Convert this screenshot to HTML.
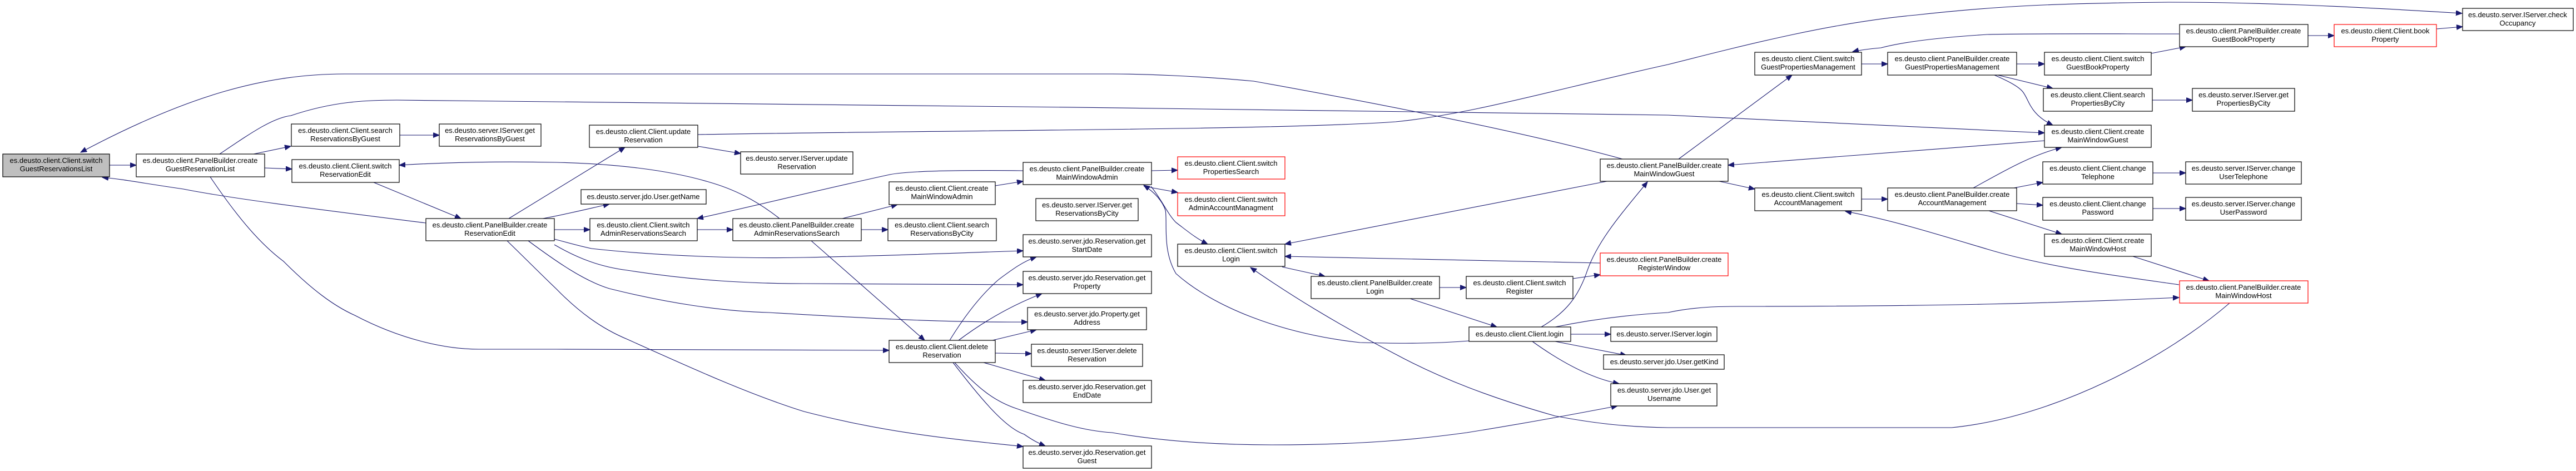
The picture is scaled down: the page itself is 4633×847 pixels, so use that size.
<!DOCTYPE html>
<html><head><meta charset="utf-8"><style>
html,body{margin:0;padding:0;background:#fff;}
svg{display:block;}
text{font-family:"Liberation Sans",Arial,sans-serif;font-size:13px;fill:#000;text-anchor:middle;}
.e{fill:none;stroke:#191970;stroke-width:1.1;marker-end:url(#a);}
rect{fill:#fff;stroke:#000;stroke-width:1.2;}
rect.r{stroke:#ff0000;}
</style></head><body>
<svg width="4633" height="847" viewBox="0 0 4633 847" xmlns="http://www.w3.org/2000/svg">
<defs><marker id="a" markerUnits="userSpaceOnUse" markerWidth="12" markerHeight="10" refX="11" refY="4.5" orient="auto"><path d="M0,0 L11,4.5 L0,9 z" fill="#191970" stroke="#191970"/></marker></defs>

<!-- edges -->
<path class="e" d="M197,297 L245,297"/>
<path class="e" d="M456,277 L523,263"/>
<path class="e" d="M476,302 L525,304"/>
<path class="e" d="M719,243 L790,243"/>
<path class="e" d="M672,328 L829,393"/>
<path class="e" d="M766,401 C600,380 420,358 330,340 C260,330 220,322 184,319"/>
<path class="e" d="M2918,286 C2750,240 2500,190 2255,146 C2150,136 2050,133 2000,133 L620,133 C480,133 340,170 145,274"/>
<path class="e" d="M395,277 C450,240 490,212 523,208 C600,182 660,180 714,180 C1200,184 2400,198 3000,207 L3677,239"/>
<path class="e" d="M1255,242 C1700,234 2300,234 2510,219 C2650,205 2800,160 3000,116 C3150,78 3300,40 3446,27 C3600,10 3700,6 3900,4 C4050,4 4200,10 4428,24"/>
<path class="e" d="M915,393 L1124,265"/>
<path class="e" d="M1255,263 L1332,276"/>
<path class="e" d="M976,393 C1020,385 1060,375 1096,367"/>
<path class="e" d="M997,413 L1061,413"/>
<path class="e" d="M1254,413 L1318,413"/>
<path class="e" d="M1515,393 L1614,368"/>
<path class="e" d="M1549,413 L1597,413"/>
<path class="e" d="M1790,334 L1840,326"/>
<path class="e" d="M1840,307 C1750,306 1640,306 1600,314 C1480,340 1350,372 1254,393"/>
<path class="e" d="M1402,393 C1360,360 1320,340 1274,327 C1200,305 1100,294 1000,292 C900,290 800,292 718,297"/>
<path class="e" d="M1459,433 L1663,612"/>
<path class="e" d="M997,430 C1020,436 1040,442 1064,447 C1200,462 1350,465 1446,463 C1600,460 1720,455 1840,451"/>
<path class="e" d="M997,440 C1040,465 1080,480 1128,486 C1250,505 1350,510 1446,510 C1600,512 1720,512 1840,512"/>
<path class="e" d="M950,433 C1000,470 1050,505 1096,519 C1200,545 1300,560 1383,562 C1600,575 1720,580 1848,579"/>
<path class="e" d="M912,433 C950,470 980,500 1000,519 C1040,560 1080,590 1128,610 C1250,665 1350,710 1446,740 C1600,780 1720,790 1840,803"/>
<path class="e" d="M378,318 C430,395 470,440 510,470 C560,520 600,550 638,567 C720,610 800,628 861,628 L1000,628 C1300,629 1450,630 1599,630"/>
<path class="e" d="M1708,612 C1740,560 1770,525 1797,502 C1820,485 1840,470 1864,462"/>
<path class="e" d="M1724,612 C1780,570 1830,545 1874,528"/>
<path class="e" d="M1785,612 L1864,593"/>
<path class="e" d="M1790,635 L1855,636"/>
<path class="e" d="M1769,652 L1880,684"/>
<path class="e" d="M1714,652 C1770,725 1810,770 1842,781 C1855,790 1865,796 1880,802"/>
<path class="e" d="M1717,652 C1760,700 1790,722 1829,735 C1900,760 1950,775 2000,778 C2100,795 2200,800 2287,800 C2450,800 2550,790 2638,778 C2750,760 2830,745 2909,730"/>
<path class="e" d="M2071,307 L2118,306"/>
<path class="e" d="M2057,335 L2118,346"/>
<path class="e" d="M2070,335 C2090,360 2100,385 2115,400 C2135,415 2150,428 2172,439"/>
<path class="e" d="M2642,613 C2580,618 2520,618 2446,616 C2300,600 2180,550 2115,492 C2090,450 2100,400 2096,378 C2090,360 2075,345 2057,333"/>
<path class="e" d="M2306,480 L2383,497"/>
<path class="e" d="M2589,517 L2637,517"/>
<path class="e" d="M2536,537 L2692,588"/>
<path class="e" d="M2829,501 L2878,494"/>
<path class="e" d="M2878,473 L2311,461"/>
<path class="e" d="M2890,326 L2311,439"/>
<path class="e" d="M2772,588 C2820,560 2840,530 2855,486 C2875,430 2920,380 2963,327"/>
<path class="e" d="M2825,601 L2897,601"/>
<path class="e" d="M2797,614 L2925,639"/>
<path class="e" d="M2756,614 C2820,660 2870,682 2912,690"/>
<path class="e" d="M4010,545 C3900,640 3700,750 3510,769 L3000,769 C2930,768 2870,762 2797,748 C2680,715 2590,680 2510,637 C2400,580 2320,530 2249,481"/>
<path class="e" d="M2797,588 C2860,575 2930,566 3000,562 C3050,551 3100,551 3128,551 C3500,551 3700,545 3919,535"/>
<path class="e" d="M3919,512 C3800,495 3680,480 3574,448 C3480,420 3400,395 3319,380"/>
<path class="e" d="M3836,461 L3973,505"/>
<path class="e" d="M3019,286 L3223,135"/>
<path class="e" d="M3092,326 L3156,340"/>
<path class="e" d="M3677,253 L3108,297"/>
<path class="e" d="M3348,115 L3395,115"/>
<path class="e" d="M3627,115 L3677,115"/>
<path class="e" d="M3593,135 L3692,159"/>
<path class="e" d="M3587,135 C3610,145 3630,155 3638,165 C3650,180 3650,205 3692,225"/>
<path class="e" d="M3869,96 L3931,84"/>
<path class="e" d="M3919,61 C3800,61 3650,60 3574,62 C3480,68 3420,76 3383,86 C3360,88 3345,90 3332,93"/>
<path class="e" d="M3871,180 L3943,180"/>
<path class="e" d="M3348,358 L3395,358"/>
<path class="e" d="M3549,338 C3600,310 3650,280 3708,265"/>
<path class="e" d="M3622,338 L3674,328"/>
<path class="e" d="M3627,366 L3674,369"/>
<path class="e" d="M3577,379 L3708,421"/>
<path class="e" d="M3872,311 L3931,311"/>
<path class="e" d="M3872,375 L3931,375"/>
<path class="e" d="M4151,64 L4198,64"/>
<path class="e" d="M4382,52 L4429,48"/>

<!-- nodes -->
<rect x="5" y="277" width="192" height="41" style="fill:#bfbfbf"/><text x="101" y="293">es.deusto.client.Client.switch</text><text x="101" y="308">GuestReservationsList</text>
<rect x="245" y="277" width="231" height="41"/><text x="360" y="293">es.deusto.client.PanelBuilder.create</text><text x="360" y="308">GuestReservationList</text>
<rect x="524" y="223" width="195" height="40"/><text x="621" y="239">es.deusto.client.Client.search</text><text x="621" y="254">ReservationsByGuest</text>
<rect x="790" y="223" width="183" height="40"/><text x="881" y="239">es.deusto.server.IServer.get</text><text x="881" y="254">ReservationsByGuest</text>
<rect x="525" y="287" width="193" height="41"/><text x="621" y="303">es.deusto.client.Client.switch</text><text x="621" y="318">ReservationEdit</text>
<rect x="766" y="393" width="231" height="40"/><text x="881" y="409">es.deusto.client.PanelBuilder.create</text><text x="881" y="424">ReservationEdit</text>
<rect x="1060" y="225" width="195" height="40"/><text x="1157" y="241">es.deusto.client.Client.update</text><text x="1157" y="256">Reservation</text>
<rect x="1332" y="273" width="202" height="40"/><text x="1433" y="289">es.deusto.server.IServer.update</text><text x="1433" y="304">Reservation</text>
<rect x="1045" y="341" width="225" height="26"/><text x="1157" y="358">es.deusto.server.jdo.User.getName</text>
<rect x="1061" y="393" width="193" height="40"/><text x="1157" y="409">es.deusto.client.Client.switch</text><text x="1157" y="424">AdminReservationsSearch</text>
<rect x="1318" y="393" width="231" height="40"/><text x="1433" y="409">es.deusto.client.PanelBuilder.create</text><text x="1433" y="424">AdminReservationsSearch</text>
<rect x="1599" y="327" width="191" height="41"/><text x="1694" y="343">es.deusto.client.Client.create</text><text x="1694" y="358">MainWindowAdmin</text>
<rect x="1597" y="393" width="195" height="40"/><text x="1694" y="409">es.deusto.client.Client.search</text><text x="1694" y="424">ReservationsByCity</text>
<rect x="1599" y="612" width="191" height="40"/><text x="1694" y="628">es.deusto.client.Client.delete</text><text x="1694" y="643">Reservation</text>
<rect x="1840" y="292" width="231" height="40"/><text x="1955" y="308">es.deusto.client.PanelBuilder.create</text><text x="1955" y="323">MainWindowAdmin</text>
<rect x="1863" y="357" width="184" height="40"/><text x="1955" y="373">es.deusto.server.IServer.get</text><text x="1955" y="388">ReservationsByCity</text>
<rect x="1840" y="422" width="231" height="40"/><text x="1955" y="438">es.deusto.server.jdo.Reservation.get</text><text x="1955" y="453">StartDate</text>
<rect x="1840" y="488" width="231" height="40"/><text x="1955" y="504">es.deusto.server.jdo.Reservation.get</text><text x="1955" y="519">Property</text>
<rect x="1848" y="553" width="214" height="40"/><text x="1955" y="569">es.deusto.server.jdo.Property.get</text><text x="1955" y="584">Address</text>
<rect x="1855" y="619" width="200" height="40"/><text x="1955" y="635">es.deusto.server.IServer.delete</text><text x="1955" y="650">Reservation</text>
<rect x="1840" y="684" width="231" height="40"/><text x="1955" y="700">es.deusto.server.jdo.Reservation.get</text><text x="1955" y="715">EndDate</text>
<rect x="1840" y="802" width="231" height="40"/><text x="1955" y="818">es.deusto.server.jdo.Reservation.get</text><text x="1955" y="833">Guest</text>
<rect class="r" x="2118" y="282" width="193" height="40"/><text x="2214" y="298">es.deusto.client.Client.switch</text><text x="2214" y="313">PropertiesSearch</text>
<rect class="r" x="2118" y="347" width="193" height="41"/><text x="2214" y="363">es.deusto.client.Client.switch</text><text x="2214" y="378">AdminAccountManagment</text>
<rect x="2118" y="439" width="193" height="40"/><text x="2214" y="455">es.deusto.client.Client.switch</text><text x="2214" y="470">Login</text>
<rect x="2358" y="497" width="231" height="40"/><text x="2473" y="513">es.deusto.client.PanelBuilder.create</text><text x="2473" y="528">Login</text>
<rect x="2637" y="497" width="192" height="40"/><text x="2733" y="513">es.deusto.client.Client.switch</text><text x="2733" y="528">Register</text>
<rect class="r" x="2878" y="455" width="230" height="41"/><text x="2993" y="471">es.deusto.client.PanelBuilder.create</text><text x="2993" y="486">RegisterWindow</text>
<rect x="2642" y="588" width="183" height="26"/><text x="2733" y="605">es.deusto.client.Client.login</text>
<rect x="2897" y="588" width="191" height="26"/><text x="2993" y="605">es.deusto.server.IServer.login</text>
<rect x="2884" y="638" width="217" height="26"/><text x="2993" y="655">es.deusto.server.jdo.User.getKind</text>
<rect x="2897" y="690" width="191" height="40"/><text x="2993" y="706">es.deusto.server.jdo.User.get</text><text x="2993" y="721">Username</text>
<rect x="2878" y="286" width="230" height="40"/><text x="2993" y="302">es.deusto.client.PanelBuilder.create</text><text x="2993" y="317">MainWindowGuest</text>
<rect x="3156" y="94" width="192" height="41"/><text x="3252" y="110">es.deusto.client.Client.switch</text><text x="3252" y="125">GuestPropertiesManagement</text>
<rect x="3395" y="94" width="232" height="41"/><text x="3511" y="110">es.deusto.client.PanelBuilder.create</text><text x="3511" y="125">GuestPropertiesManagement</text>
<rect x="3677" y="94" width="192" height="41"/><text x="3773" y="110">es.deusto.client.Client.switch</text><text x="3773" y="125">GuestBookProperty</text>
<rect x="3675" y="159" width="196" height="41"/><text x="3773" y="175">es.deusto.client.Client.search</text><text x="3773" y="190">PropertiesByCity</text>
<rect x="3677" y="225" width="192" height="40"/><text x="3773" y="241">es.deusto.client.Client.create</text><text x="3773" y="256">MainWindowGuest</text>
<rect x="3156" y="338" width="192" height="41"/><text x="3252" y="354">es.deusto.client.Client.switch</text><text x="3252" y="369">AccountManagement</text>
<rect x="3395" y="338" width="232" height="41"/><text x="3511" y="354">es.deusto.client.PanelBuilder.create</text><text x="3511" y="369">AccountManagement</text>
<rect x="3674" y="291" width="198" height="40"/><text x="3773" y="307">es.deusto.client.Client.change</text><text x="3773" y="322">Telephone</text>
<rect x="3674" y="355" width="198" height="41"/><text x="3773" y="371">es.deusto.client.Client.change</text><text x="3773" y="386">Password</text>
<rect x="3677" y="421" width="192" height="40"/><text x="3773" y="437">es.deusto.client.Client.create</text><text x="3773" y="452">MainWindowHost</text>
<rect x="3920" y="44" width="231" height="40"/><text x="4035" y="60">es.deusto.client.PanelBuilder.create</text><text x="4035" y="75">GuestBookProperty</text>
<rect class="r" x="4198" y="44" width="184" height="40"/><text x="4290" y="60">es.deusto.client.Client.book</text><text x="4290" y="75">Property</text>
<rect x="4429" y="15" width="199" height="40"/><text x="4528" y="31">es.deusto.server.IServer.check</text><text x="4528" y="46">Occupancy</text>
<rect x="3943" y="159" width="184" height="41"/><text x="4035" y="175">es.deusto.server.IServer.get</text><text x="4035" y="190">PropertiesByCity</text>
<rect x="3931" y="291" width="208" height="40"/><text x="4035" y="307">es.deusto.server.IServer.change</text><text x="4035" y="322">UserTelephone</text>
<rect x="3931" y="355" width="208" height="41"/><text x="4035" y="371">es.deusto.server.IServer.change</text><text x="4035" y="386">UserPassword</text>
<rect class="r" x="3920" y="505" width="231" height="40"/><text x="4035" y="521">es.deusto.client.PanelBuilder.create</text><text x="4035" y="536">MainWindowHost</text>
</svg>
</body></html>
